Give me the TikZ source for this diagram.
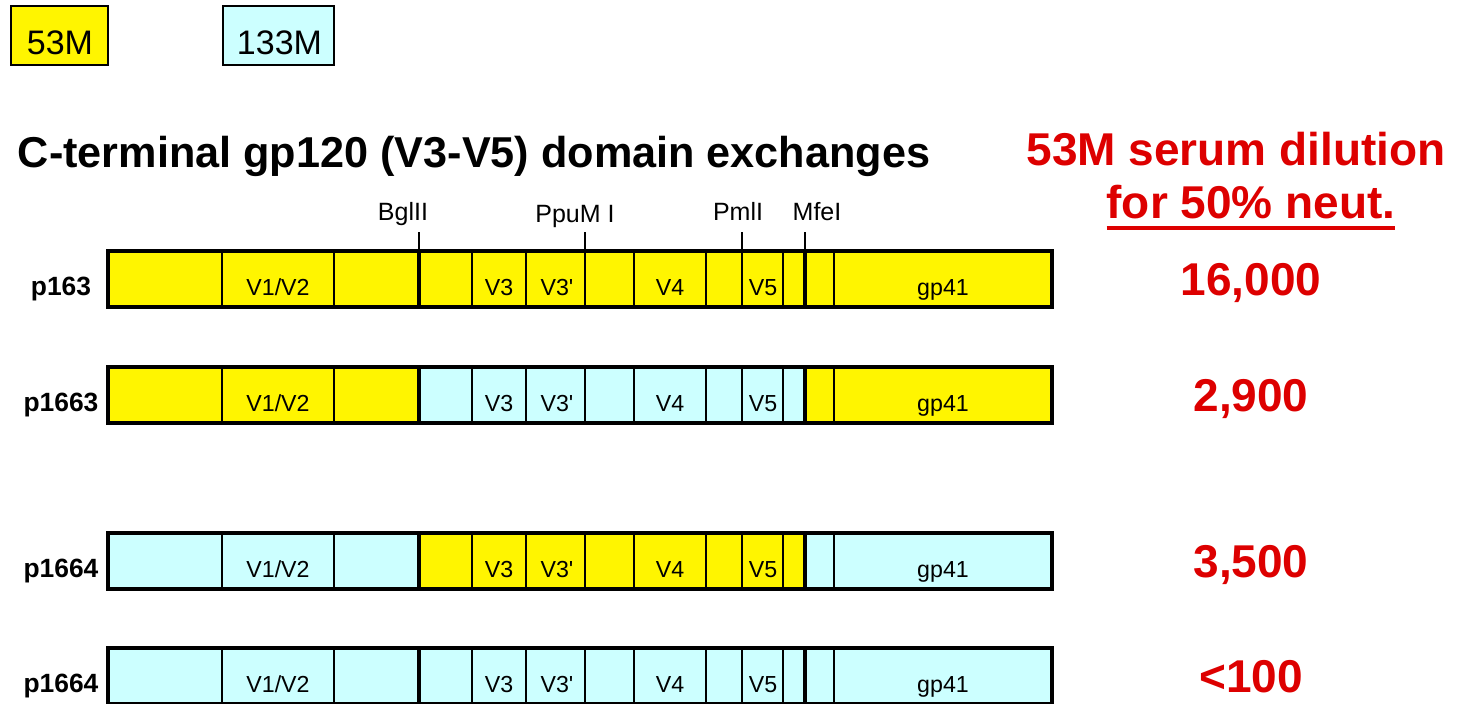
\documentclass[tikz,border=0pt]{standalone}
\usepackage{fontspec}
\setmainfont{Liberation Sans}
\definecolor{yel}{RGB}{255,245,0}
\definecolor{cya}{RGB}{204,255,255}
\definecolor{dred}{RGB}{221,0,0}

\begin{document}
\begin{tikzpicture}[x=0.5pt, y=-0.5pt]
\tikzset{ inner sep=0pt, outer sep=0pt,
  thinline/.style={line width=0.65pt},
  thickline/.style={line width=2pt},
  legbox/.style={draw, line width=0.65pt, minimum height=29.5pt},
  leglab/.style={anchor=base, font=\fontsize{17}{18}\selectfont},
  seglab/.style={anchor=base, font=\fontsize{11.6}{12}\selectfont},
  rowlab/.style={anchor=base, font=\fontsize{13.2}{14}\selectfont\bfseries},
  sitelab/.style={anchor=base, font=\fontsize{12.5}{13}\selectfont},
  dil/.style={anchor=base, text=dred, font=\fontsize{23}{24}\selectfont\bfseries},
}

\useasboundingbox (0,0) rectangle (1457,703);

% legend
\node [legbox, fill=yel, minimum width=48.5pt] (leg53) at (59.5,35.5) {};
\node [legbox, fill=cya, minimum width=55.5pt] (leg133) at (278.5,35.5) {};
\node [leglab] (leg53t) at (60,54) {53M};
\node [leglab] (leg133t) at (279.5,54) {133M};

% titles
\node [anchor=base west, font=\fontsize{21.6}{22}\selectfont\bfseries] (title) at (18,167) {C-terminal gp120 (V3-V5) domain exchanges};
\node [dil] (hd1) at (1236,165) {53M serum dilution};
\node [dil] (hd2) at (1251,218) {for 50\% neut.};
\draw [dred, line width=1.6pt] ([yshift=-5pt]hd2.base west) -- ([yshift=-5pt]hd2.base east);

% restriction sites
\foreach \sx/\lx/\ly/\st/\sn in {419/403/220/BglII/bgl, 585/575/222/PpuM I/ppu, 742/738/220/PmlI/pml, 805/817/220/MfeI/mfe}
{
  \node [sitelab] (\sn) at (\lx,\ly) {\st};
  \coordinate (\sn-a) at (\sx,232);
  \coordinate (\sn-b) at (\sx,251);
  \draw [thinline] (\sn-a) -- (\sn-b);
}

% constructs
\foreach \n/\yc/\lab/\ca/\cb/\val in {1/279/p163/yel/yel/{16,000}, 2/395/p1663/yel/cya/{2,900}, 3/561/p1664/cya/yel/{3,500}, 4/676/p1664/cya/cya/{<100}}
{
  \fill [\ca] (108,{\yc-28}) rectangle (419,{\yc+28});
  \fill [\cb] (419,{\yc-28}) rectangle (805,{\yc+28});
  \fill [\ca] (805,{\yc-28}) rectangle (1052,{\yc+28});
  \foreach \xd in {222,334,472,526,585,634,706,742,783,834}
    \draw [thinline] (\xd,{\yc-28}) -- (\xd,{\yc+28});
  \draw [thickline] (419,{\yc-28}) -- (419,{\yc+28});
  \draw [thickline] (805,{\yc-28}) -- (805,{\yc+28});
  \draw [thickline] (108,{\yc-28}) rectangle (1052,{\yc+28});

  \foreach \sx/\st/\sn in {278/{V1/V2}/v12, 499/V3/v3, 557/{V3\textquotesingle}/v3p, 670/V4/v4, 763/V5/v5, 943/gp41/gp}
    \node [seglab] (\sn-\n) at (\sx,{\yc+16}) {\st};

  \node [rowlab] (row\n) at (61,{\yc+16}) {\lab};
  \node [dil] (dil\n) at (1251,{\yc+16.5}) {\val};
}

\end{tikzpicture}
\end{document}
